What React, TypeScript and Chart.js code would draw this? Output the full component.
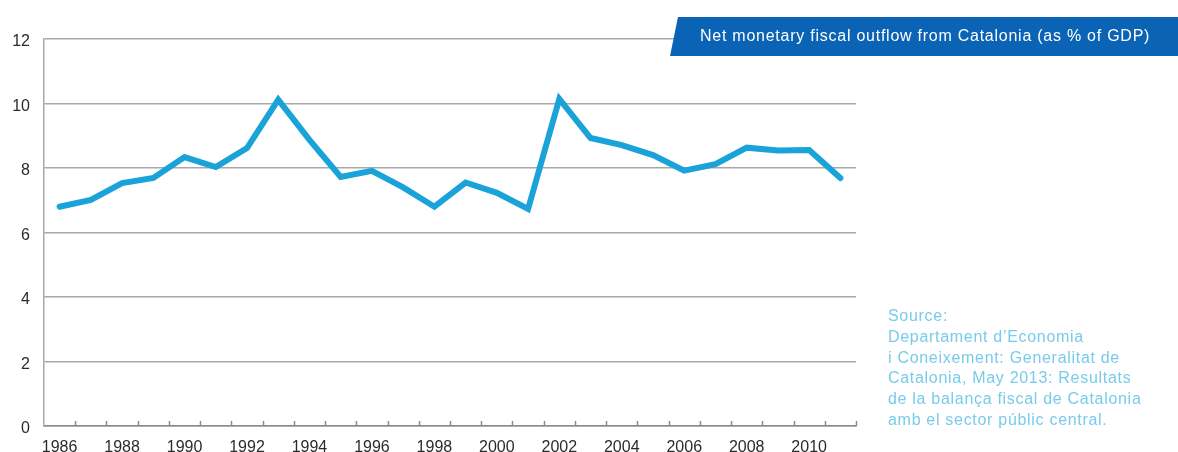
import React, { useEffect, useRef } from "react";
import { Chart, registerables } from "chart.js";

Chart.register(...registerables);

// Years on the category axis, 1986–2011
const years: string[] = [
  "1986", "1987", "1988", "1989", "1990", "1991", "1992", "1993", "1994",
  "1995", "1996", "1997", "1998", "1999", "2000", "2001", "2002", "2003",
  "2004", "2005", "2006", "2007", "2008", "2009", "2010", "2011",
];

// Net monetary fiscal outflow, % of GDP
const outflowPct: number[] = [
  6.8, 7.01, 7.53, 7.69, 8.34, 8.03, 8.62, 10.12, 8.87, 7.72, 7.91, 7.4, 6.8,
  7.55, 7.23, 6.73, 10.14, 8.93, 8.71, 8.4, 7.92, 8.12, 8.63, 8.54, 8.56, 7.69,
];

// Y axis range and step
const yMin = 0;
const yMax = 12;
const yStep = 2;

const titleText = "Net monetary fiscal outflow from Catalonia (as % of GDP)";
const sourceLines: string[] = [
  "Source:",
  "Departament d\u2019Economia",
  "i Coneixement: Generalitat de",
  "Catalonia, May 2013: Resultats",
  "de la balan\u00e7a fiscal de Catalonia",
  "amb el sector p\u00fablic central.",
];

const FONT = "'Liberation Sans', Arial, Helvetica, sans-serif";
const LINE_BLUE = "#1aa3d8";
const BANNER_BLUE = "#0a63b4";
const SOURCE_BLUE = "#78cbeb";

// Small year tick marks pointing up from the x axis, one per category boundary
const innerTicks = {
  id: "innerTicks",
  afterDraw(chart: Chart) {
    const x = chart.scales.x;
    const ctx = chart.ctx;
    const n = chart.data.labels ? chart.data.labels.length : 0;
    const step = (x.right - x.left) / n;
    const yb = chart.chartArea.bottom;
    ctx.save();
    ctx.strokeStyle = "#8a8a8a";
    ctx.lineWidth = 1.5;
    ctx.beginPath();
    for (let i = 1; i <= n; i++) {
      const px = Math.round(x.left + i * step) + 0.5;
      ctx.moveTo(px, yb);
      ctx.lineTo(px, yb - 5);
    }
    ctx.stroke();
    ctx.restore();
  },
};

export default function App() {
  const canvasRef = useRef<HTMLCanvasElement | null>(null);

  useEffect(() => {
    const canvas = canvasRef.current;
    if (!canvas) return;
    const chart = new Chart(canvas, {
      type: "line",
      data: {
        labels: years,
        datasets: [
          {
            data: outflowPct,
            borderColor: LINE_BLUE,
            borderWidth: 6,
            borderCapStyle: "round",
            borderJoinStyle: "miter",
            pointRadius: 0,
            tension: 0,
            fill: false,
          },
        ],
      },
      options: {
        animation: false,
        responsive: false,
        devicePixelRatio: 1,
        layout: { padding: { left: 0, top: 39, right: 322, bottom: 0 } },
        plugins: {
          legend: { display: false },
          tooltip: { enabled: false },
          title: { display: false },
        },
        scales: {
          x: {
            type: "category",
            offset: true,
            grid: { display: false, offset: true, drawTicks: false },
            border: { display: true, color: "#8a8a8a", width: 1.5 },
            ticks: {
              autoSkip: false,
              maxRotation: 0,
              padding: 12,
              color: "#2b2b2b",
              font: { family: FONT, size: 16 },
              callback: (_v: any, i: number) => (i % 2 === 0 ? years[i] : ""),
            },
            afterFit: (s: any) => {
              s.height = 26;
            },
          },
          y: {
            min: yMin,
            max: yMax,
            grid: { color: "#a8a8a8", lineWidth: 1.5, drawTicks: false },
            border: { display: true, color: "#a8a8a8", width: 1.5 },
            ticks: {
              stepSize: yStep,
              padding: 14,
              labelOffset: 3,
              color: "#2b2b2b",
              font: { family: FONT, size: 16 },
            },
            afterFit: (s: any) => {
              s.width = 44;
            },
          },
        },
      },
      plugins: [innerTicks],
    });
    return () => chart.destroy();
  }, []);

  return (
    <div
      style={{
        position: "fixed",
        left: 0,
        top: 0,
        width: 1178,
        height: 452,
        background: "#ffffff",
        overflow: "hidden",
        fontFamily: FONT,
      }}
    >
      <canvas
        ref={canvasRef}
        width={1178}
        height={452}
        style={{ position: "absolute", left: 0, top: 0, width: 1178, height: 452 }}
      />
      <div
        style={{
          position: "absolute",
          left: 670,
          top: 17,
          width: 508,
          height: 39,
          background: BANNER_BLUE,
          clipPath: "polygon(8px 0, 100% 0, 100% 100%, 0 100%)",
        }}
      />
      <div
        style={{
          position: "absolute",
          left: 700,
          top: 26,
          fontSize: 16,
          lineHeight: "20px",
          letterSpacing: "0.75px",
          color: "#ffffff",
          whiteSpace: "nowrap",
        }}
      >
        {titleText}
      </div>
      <div
        style={{
          position: "absolute",
          left: 888,
          top: 306,
          fontSize: 16,
          lineHeight: "20.8px",
          letterSpacing: "0.7px",
          color: SOURCE_BLUE,
          whiteSpace: "nowrap",
        }}
      >
        {sourceLines.map((l, i) => (
          <div key={i}>{l}</div>
        ))}
      </div>
    </div>
  );
}
